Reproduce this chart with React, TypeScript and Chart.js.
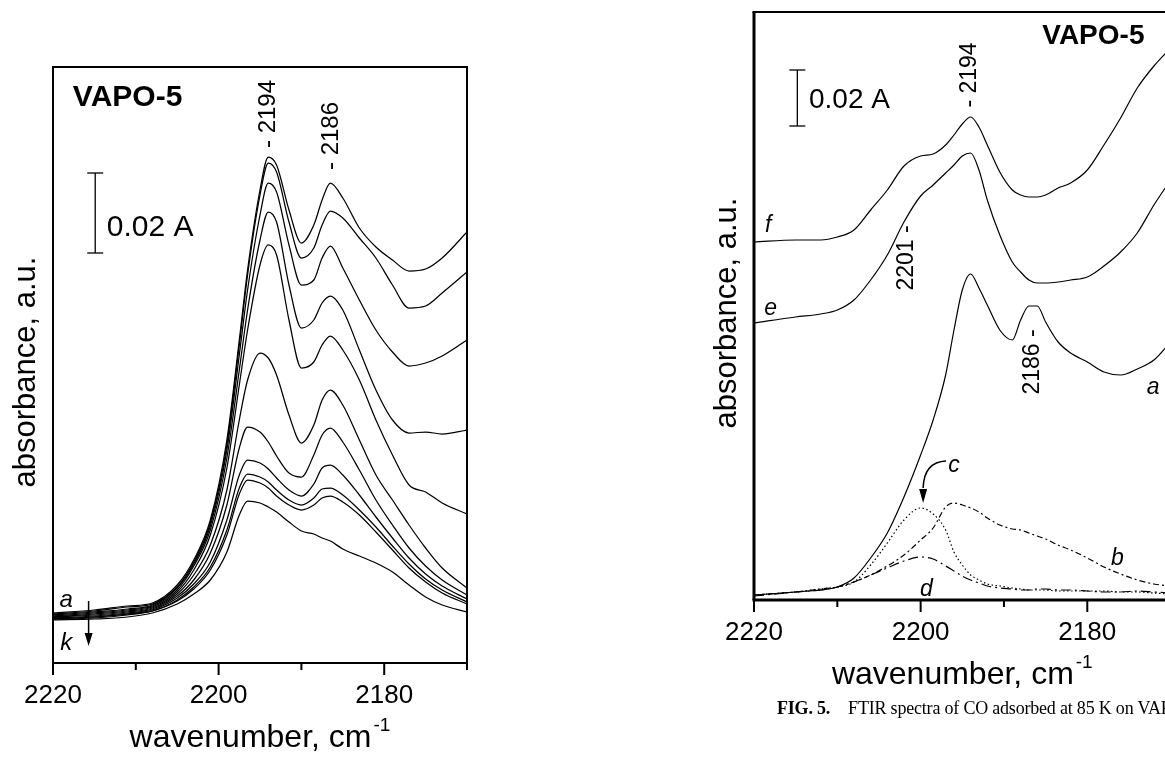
import React, { useEffect, useRef } from 'react';
import { Chart, registerables } from 'chart.js';

Chart.register(...registerables);

const INK = '#000';
const SANS = '"Liberation Sans", Arial, sans-serif';
const SERIF = '"Liberation Serif", "Times New Roman", serif';

// ---------- axis ticks ----------
const xMajorTicks = [2220, 2200, 2180];
const xTickLabels = ['2220', '2200', '2180'];
const xMinorTicks = [2210, 2190, 2170];

// ---------- left panel: spectra a → k (absorbance, a.u.) ----------
const leftWavenumber = [2220, 2215, 2211, 2208, 2205, 2203, 2201, 2199, 2197.5, 2196.5, 2195, 2194, 2193, 2191.5, 2190, 2188.5, 2187.5, 2186.5, 2185, 2183, 2181, 2179, 2177, 2175, 2173, 2170];
const leftA = [50, 53, 57, 60, 78, 103, 143, 223, 323, 393, 473, 506, 498, 453, 420, 438, 463, 480, 465, 435, 416, 403, 392, 394, 405, 431];
const leftB = [49, 52, 56, 59, 76, 101, 140, 218, 318, 388, 468, 500, 491, 441, 405, 415, 438, 452, 445, 425, 405, 378, 355, 357, 370, 391];
const leftC = [48, 51, 54, 58, 75, 99, 137, 213, 308, 373, 448, 480, 471, 418, 378, 383, 405, 417, 395, 363, 333, 311, 297, 300, 307, 323];
const leftD = [47, 50, 53, 57, 73, 97, 133, 205, 293, 353, 423, 451, 441, 378, 335, 343, 360, 367, 353, 313, 273, 243, 230, 231, 229, 233];
const leftE = [46, 49, 52, 56, 71, 93, 128, 195, 278, 333, 398, 418, 408, 343, 295, 301, 318, 327, 313, 283, 243, 208, 178, 171, 160, 149];
const leftF = [46, 48, 51, 55, 69, 88, 118, 173, 243, 283, 310, 305, 288, 248, 220, 238, 263, 273, 258, 223, 188, 163, 138, 115, 95, 75];
const leftG = [45, 47, 50, 54, 67, 83, 110, 158, 215, 236, 231, 221, 207, 190, 186, 208, 228, 235, 221, 193, 163, 138, 115, 97, 83, 68];
const leftH = [45, 46, 49, 53, 65, 79, 101, 143, 188, 203, 200, 194, 185, 173, 167, 179, 195, 198, 188, 168, 146, 125, 105, 89, 77, 64];
const leftI = [44, 46, 49, 52, 63, 76, 96, 133, 175, 189, 186, 181, 173, 163, 158, 165, 174, 175, 168, 153, 136, 117, 99, 84, 73, 61];
const leftJ = [44, 45, 48, 52, 62, 74, 93, 128, 169, 183, 180, 175, 167, 158, 153, 158, 165, 167, 161, 148, 131, 113, 95, 81, 70, 59];
const leftK = [43, 44, 46, 50, 59, 69, 83, 111, 148, 162, 160, 156, 151, 141, 132, 129, 125, 122, 114, 107, 100, 91, 78, 66, 58, 51];

// ---------- right panel: spectra a–f (absorbance, a.u.) ----------
const rightWavenumber = [2220, 2215, 2212, 2210, 2208, 2206, 2204, 2202, 2200, 2198.5, 2197, 2196, 2195, 2194, 2193, 2192, 2190.5, 2189, 2188, 2187, 2186, 2185, 2183.5, 2182, 2180, 2178, 2176, 2174, 2172, 2170];
const rightF = [366, 368, 368, 371, 378, 398, 418, 442, 452, 454, 463, 473, 484, 491, 481, 463, 436, 418, 413, 411, 411, 413, 420, 425, 438, 463, 490, 520, 542, 560];
const rightE = [285, 291, 294, 298, 308, 328, 353, 386, 412, 423, 435, 443, 452, 455, 438, 408, 373, 346, 336, 328, 325, 325, 326, 328, 331, 342, 356, 375, 403, 428];
const rightA = [13, 16, 18, 21, 30, 50, 75, 111, 153, 188, 233, 278, 318, 334, 320, 303, 278, 268, 288, 302, 302, 286, 266, 255, 246, 236, 233, 239, 248, 266];
const rightB = [13, 16, 19, 21, 26, 33, 42, 53, 68, 80, 101, 105, 103, 100, 96, 90, 83, 79, 78, 75, 72, 69, 63, 58, 50, 41, 34, 28, 24, 22];
const rightC = [13, 16, 19, 21, 26, 43, 65, 88, 100, 94, 78, 56, 43, 33, 28, 24, 22, 20, 19, 18, 18, 18, 17, 17, 17, 17, 16, 16, 15, 14];
const rightD = [12, 16, 18, 21, 26, 33, 40, 47, 51, 49, 42, 37, 32, 28, 25, 22, 20, 19, 18, 18, 19, 19, 18, 18, 17, 16, 16, 17, 16, 15];

type TextAnn = { text: string; wn: number; v: number; font: string; align?: CanvasTextAlign; rotate?: boolean };
type Series = { values: number[]; dash: number[] };
type PanelCfg = {
  id: string;
  canvasLeft: number;
  width: number;
  height: number;
  padding: { left: number; right: number; top: number; bottom: number };
  yMin: number;
  yMax: number;
  wn: number[];
  series: Series[];
  lineWidth: number;
  frame: { left: number; right: number; top: number; bottom: number };
  texts: TextAnn[];
  bar: { wn: number; v0: number; v1: number };
  arrow?: { wn: number; v0: number; v1: number };
  curvedArrow?: { from: [number, number]; ctrl: [number, number]; to: [number, number]; tip: [number, number] };
};

const italic = (s: number) => `italic ${s}px ${SANS}`;
const plain = (s: number) => `${s}px ${SANS}`;
const bold = (s: number) => `bold ${s}px ${SANS}`;

const leftCfg: PanelCfg = {
  id: 'left',
  canvasLeft: 0,
  width: 600,
  height: 757,
  padding: { left: 53, right: 133, top: 67, bottom: 94 },
  yMin: 0,
  yMax: 596,
  wn: leftWavenumber,
  series: [leftA, leftB, leftC, leftD, leftE, leftF, leftG, leftH, leftI, leftJ, leftK].map((values) => ({ values, dash: [] })),
  lineWidth: 1.25,
  frame: { left: 2, right: 2, top: 2, bottom: 2 },
  texts: [
    { text: 'VAPO-5', wn: 2217.6, v: 565, font: bold(30), align: 'left' },
    { text: '- 2194', wn: 2194.0, v: 549, font: plain(24), rotate: true },
    { text: '- 2186', wn: 2186.4, v: 527, font: plain(24), rotate: true },
    { text: '0.02 A', wn: 2213.5, v: 435, font: plain(30), align: 'left' },
    { text: 'a', wn: 2218.4, v: 63, font: italic(24) },
    { text: 'k', wn: 2218.4, v: 20, font: italic(24) },
  ],
  bar: { wn: 2214.9, v0: 410, v1: 490 },
  arrow: { wn: 2215.7, v0: 62, v1: 17 },
};

const rightCfg: PanelCfg = {
  id: 'right',
  canvasLeft: 660,
  width: 600,
  height: 757,
  padding: { left: 94, right: 89.4, top: 12, bottom: 157 },
  yMin: 8,
  yMax: 596,
  wn: rightWavenumber,
  series: [
    { values: rightF, dash: [] },
    { values: rightE, dash: [] },
    { values: rightA, dash: [] },
    { values: rightB, dash: [6, 3, 2, 3] },
    { values: rightC, dash: [1.5, 2.5] },
    { values: rightD, dash: [10, 4, 2, 4] },
  ],
  lineWidth: 1.2,
  frame: { left: 3, right: 2, top: 2, bottom: 3 },
  texts: [
    { text: 'VAPO-5', wn: 2185.4, v: 572, font: bold(28), align: 'left' },
    { text: '- 2194', wn: 2194.1, v: 533, font: plain(23), rotate: true },
    { text: '2201 -', wn: 2201.7, v: 350, font: plain(23), rotate: true },
    { text: '2186 -', wn: 2186.5, v: 246, font: plain(23), rotate: true },
    { text: '0.02 A', wn: 2213.4, v: 508, font: plain(28), align: 'left' },
    { text: 'f', wn: 2218.3, v: 382, font: italic(23) },
    { text: 'e', wn: 2218.0, v: 299, font: italic(23) },
    { text: 'a', wn: 2172.1, v: 220, font: italic(23) },
    { text: 'b', wn: 2176.4, v: 49, font: italic(23) },
    { text: 'c', wn: 2196.0, v: 142, font: italic(23) },
    { text: 'd', wn: 2199.3, v: 18, font: italic(23) },
  ],
  bar: { wn: 2214.8, v0: 482, v1: 538 },
  curvedArrow: { from: [2196.95, 147], ctrl: [2199.6, 146], to: [2199.7, 120], tip: [2199.7, 105] },
};

function makeDecor(cfg: PanelCfg) {
  return {
    id: 'decor-' + cfg.id,
    afterDatasetsDraw(chart: any) {
      const { ctx, chartArea: ca } = chart;
      const xs = chart.scales.x;
      const ys = chart.scales.y;
      const px = (w: number) => xs.getPixelForValue(w);
      const py = (v: number) => ys.getPixelForValue(v);
      const seg = (x1: number, y1: number, x2: number, y2: number, w: number) => {
        ctx.lineWidth = w;
        ctx.beginPath();
        ctx.moveTo(x1, y1);
        ctx.lineTo(x2, y2);
        ctx.stroke();
      };
      ctx.save();
      ctx.strokeStyle = INK;
      ctx.fillStyle = INK;
      ctx.setLineDash([]);
      const f = cfg.frame;
      // frame
      seg(ca.left - f.left / 2, ca.top, ca.right + f.right / 2, ca.top, f.top);
      seg(ca.left - f.left / 2, ca.bottom, ca.right + f.right / 2, ca.bottom, f.bottom);
      seg(ca.left, ca.top, ca.left, ca.bottom, f.left);
      seg(ca.right, ca.top, ca.right, ca.bottom, f.right);
      // ticks
      xMajorTicks.forEach((t) => seg(px(t), ca.bottom, px(t), ca.bottom + 12, 2));
      xMinorTicks.forEach((t) => seg(px(t), ca.bottom, px(t), ca.bottom + 7, 2));
      // tick labels
      ctx.font = plain(26);
      ctx.textAlign = 'center';
      ctx.textBaseline = 'middle';
      xMajorTicks.forEach((t, i) => ctx.fillText(xTickLabels[i], px(t), ca.bottom + 33));
      // x title with superscript
      const main = 'wavenumber, cm';
      ctx.font = plain(32);
      const wMain = ctx.measureText(main).width;
      ctx.font = plain(19);
      const wSup = ctx.measureText('-1').width;
      const x0 = (ca.left + ca.right) / 2 - (wMain + wSup + 2) / 2;
      ctx.textAlign = 'left';
      ctx.textBaseline = 'alphabetic';
      ctx.font = plain(32);
      ctx.fillText(main, x0, ca.bottom + 84);
      ctx.font = plain(19);
      ctx.fillText('-1', x0 + wMain + 2, ca.bottom + 68);
      // y title
      ctx.save();
      ctx.translate(ca.left - 27, (ca.top + ca.bottom) / 2 + 7);
      ctx.rotate(-Math.PI / 2);
      ctx.font = plain(31);
      ctx.textAlign = 'center';
      ctx.textBaseline = 'middle';
      ctx.fillText('absorbance, a.u.', 0, 0);
      ctx.restore();
      // texts
      cfg.texts.forEach((t) => {
        ctx.save();
        ctx.font = t.font;
        ctx.textBaseline = 'middle';
        ctx.textAlign = t.align || 'center';
        ctx.translate(px(t.wn), py(t.v));
        if (t.rotate) ctx.rotate(-Math.PI / 2);
        ctx.fillText(t.text, 0, 0);
        ctx.restore();
      });
      // scale bar
      const bx = px(cfg.bar.wn);
      const b0 = py(cfg.bar.v0);
      const b1 = py(cfg.bar.v1);
      seg(bx, b0, bx, b1, 1.3);
      seg(bx - 8, b0, bx + 8, b0, 1.3);
      seg(bx - 8, b1, bx + 8, b1, 1.3);
      // straight arrow
      if (cfg.arrow) {
        const ax = px(cfg.arrow.wn);
        const a0 = py(cfg.arrow.v0);
        const a1 = py(cfg.arrow.v1);
        seg(ax, a0, ax, a1 - 10, 1.5);
        ctx.beginPath();
        ctx.moveTo(ax, a1);
        ctx.lineTo(ax - 4, a1 - 13);
        ctx.lineTo(ax + 4, a1 - 13);
        ctx.closePath();
        ctx.fill();
      }
      // curved arrow
      if (cfg.curvedArrow) {
        const c = cfg.curvedArrow;
        ctx.lineWidth = 1.5;
        ctx.beginPath();
        ctx.moveTo(px(c.from[0]), py(c.from[1]));
        ctx.quadraticCurveTo(px(c.ctrl[0]), py(c.ctrl[1]), px(c.to[0]), py(c.to[1]));
        ctx.stroke();
        const tx = px(c.tip[0]);
        const ty = py(c.tip[1]);
        ctx.beginPath();
        ctx.moveTo(tx, ty);
        ctx.lineTo(tx - 4, ty - 14);
        ctx.lineTo(tx + 4, ty - 14);
        ctx.closePath();
        ctx.fill();
      }
      ctx.restore();
    },
  };
}

function Panel({ cfg }: { cfg: PanelCfg }) {
  const ref = useRef<HTMLCanvasElement>(null);
  useEffect(() => {
    const chart = new Chart(ref.current as HTMLCanvasElement, {
      type: 'line',
      data: {
        datasets: cfg.series.map((s) => ({
          data: cfg.wn.map((w, i) => ({ x: w, y: s.values[i] })),
          borderColor: INK,
          borderWidth: cfg.lineWidth,
          borderDash: s.dash,
          pointRadius: 0,
          fill: false,
          cubicInterpolationMode: 'monotone' as const,
        })),
      },
      options: {
        animation: false,
        responsive: false,
        events: [],
        layout: { padding: cfg.padding },
        plugins: { legend: { display: false }, tooltip: { enabled: false } },
        scales: {
          x: { type: 'linear', reverse: true, min: 2170, max: 2220, display: false },
          y: { type: 'linear', min: cfg.yMin, max: cfg.yMax, display: false },
        },
      },
      plugins: [makeDecor(cfg)],
    } as any);
    return () => chart.destroy();
  }, [cfg]);
  return (
    <canvas
      ref={ref}
      width={cfg.width}
      height={cfg.height}
      style={{ position: 'absolute', left: cfg.canvasLeft, top: 0, width: cfg.width, height: cfg.height }}
    />
  );
}

export default function App() {
  return (
    <div style={{ position: 'fixed', left: 0, top: 0, width: 1165, height: 757, overflow: 'hidden', background: '#fff' }}>
      <Panel cfg={leftCfg} />
      <Panel cfg={rightCfg} />
      <div
        style={{
          position: 'absolute',
          left: 777,
          top: 698,
          whiteSpace: 'nowrap',
          fontFamily: SERIF,
          fontSize: 18,
          letterSpacing: -0.2,
          color: INK,
        }}
      >
        <b>FIG. 5.</b>
        <span style={{ marginLeft: 18 }}>FTIR spectra of CO adsorbed at 85 K on VAPO-5</span>
      </div>
    </div>
  );
}
